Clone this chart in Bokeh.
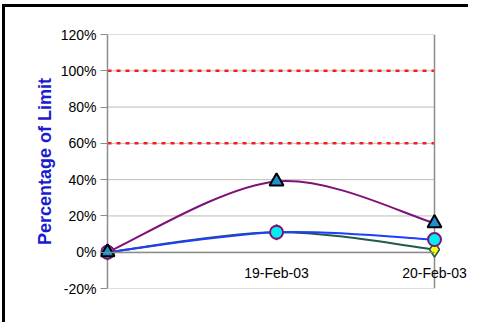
from bokeh.plotting import figure
from bokeh.models import FixedTicker, PrintfTickFormatter, Range1d
from bokeh.embed import file_html
from bokeh.resources import INLINE

# ---- data ----
dates = ["18-Feb-03", "19-Feb-03", "20-Feb-03"]
date_pos = [17.93, 19.0, 20.0]          # day of month (Feb 2003)
tick_pos = [19.0, 20.0]
tick_labels = ["19-Feb-03", "20-Feb-03"]
y_ticks = [-20, 0, 20, 40, 60, 80, 100, 120]
limit_lines = [60, 100]

series_triangle = [0, 39, 16]
series_circle = [0, 11, 7]
series_diamond = [0, 11, 1.5]


def smooth(xs, ys):
    n = len(xs)
    out = dict(x0=[], y0=[], x1=[], y1=[], cx0=[], cy0=[], cx1=[], cy1=[])
    for i in range(n - 1):
        pm = max(i - 1, 0)
        pp = min(i + 2, n - 1)
        out["x0"].append(xs[i]); out["y0"].append(ys[i])
        out["x1"].append(xs[i + 1]); out["y1"].append(ys[i + 1])
        out["cx0"].append(xs[i] + (xs[i + 1] - xs[pm]) / 6.0)
        out["cy0"].append(ys[i] + (ys[i + 1] - ys[pm]) / 6.0)
        out["cx1"].append(xs[i + 1] - (xs[pp] - xs[i]) / 6.0)
        out["cy1"].append(ys[i + 1] - (ys[pp] - ys[i]) / 6.0)
    return out


# ---- layout (pixels) ----
W, H = 466, 318
plot_px = 327          # distance from first to last date on screen
pad_l, pad_r = 7, 37   # frame extends a little past the data so markers/labels are not clipped
dpp = (date_pos[-1] - date_pos[0]) / plot_px
x_lo = date_pos[0] - pad_l * dpp
x_hi = date_pos[-1] + pad_r * dpp
x_first, x_last = date_pos[0], date_pos[-1]
y_min, y_max = y_ticks[0], y_ticks[-1]

p = figure(width=W, height=H,
           x_range=Range1d(x_lo, x_hi),
           y_range=Range1d(y_min, y_max),
           output_backend="svg", toolbar_location=None,
           min_border_left=95, min_border_right=0,
           min_border_top=27, min_border_bottom=37,
           styles={"margin-left": "5px", "margin-top": "7px",
                   "box-shadow": "-3px -3px 0px 0px black"})

p.background_fill_color = "white"
p.border_fill_color = "white"
p.outline_line_color = None
p.xgrid.visible = False
p.ygrid.visible = False

# horizontal gridlines (also the top/bottom plot edges), limited to the plot area
n = len(y_ticks)
p.segment(x0=[x_first] * n, x1=[x_last] * n, y0=y_ticks, y1=y_ticks,
          line_color="#bdbdbd", line_width=1)
# limit lines
m = len(limit_lines)
p.segment(x0=[x_first] * m, x1=[x_last] * m, y0=limit_lines, y1=limit_lines,
          line_color="#ff1a1a", line_width=2.5, line_dash="4 5")
# y axis line and right plot edge
p.segment(x0=[x_first, x_last], x1=[x_first, x_last], y0=[y_min, y_min], y1=[y_max, y_max],
          line_color="#8c8c8c", line_width=1.5)

# y axis (labels and ticks only)
p.yaxis.ticker = FixedTicker(ticks=y_ticks)
p.yaxis.formatter = PrintfTickFormatter(format="%d%%")
p.yaxis.axis_line_color = None
p.yaxis.major_tick_line_color = "#8c8c8c"
p.yaxis.major_tick_out = 0
p.yaxis.major_tick_in = pad_l
p.yaxis.minor_tick_line_color = None
p.yaxis.major_label_standoff = 4
p.yaxis.major_label_text_font = "Liberation Sans"
p.yaxis.major_label_text_font_size = "14px"
p.yaxis.major_label_text_color = "black"
p.yaxis.axis_label = "Percentage of Limit"
p.yaxis.axis_label_text_font = "Liberation Sans"
p.yaxis.axis_label_text_font_size = "18px"
p.yaxis.axis_label_text_font_style = "bold"
p.yaxis.axis_label_text_color = "#1a1ad0"
p.yaxis.axis_label_standoff = 3

# x axis crossing at 0%
p.xaxis.fixed_location = 0
p.xaxis.bounds = (x_first, x_last)
p.xaxis.ticker = FixedTicker(ticks=tick_pos)
p.xaxis.major_label_overrides = {t: l for t, l in zip(tick_pos, tick_labels)}
p.xaxis.axis_line_color = "#8c8c8c"
p.xaxis.axis_line_width = 1.5
p.xaxis.major_tick_out = 0
p.xaxis.major_tick_in = 0
p.xaxis.minor_tick_line_color = None
p.xaxis.major_label_standoff = 13
p.xaxis.major_label_text_font = "Liberation Sans"
p.xaxis.major_label_text_font_size = "14px"
p.xaxis.major_label_text_color = "black"

# smoothed lines
for ys, col in [(series_diamond, "#1f5a4a"), (series_circle, "#1f3cff"),
                (series_triangle, "#80107a")]:
    p.bezier(line_color=col, line_width=2, **smooth(date_pos, ys))

# markers
p.scatter(date_pos, series_diamond, marker="diamond", size=15,
          fill_color="#ffff00", line_color="#1f5a4a", line_width=1.5)
p.scatter(date_pos, series_circle, marker="circle", size=13,
          fill_color="#00f0f0", line_color="#80107a", line_width=2)
p.scatter(date_pos, series_triangle, marker="triangle", size=14,
          fill_color="#1e8fd0", line_color="black", line_width=2)

open("out.html", "w").write(file_html(p, INLINE))
